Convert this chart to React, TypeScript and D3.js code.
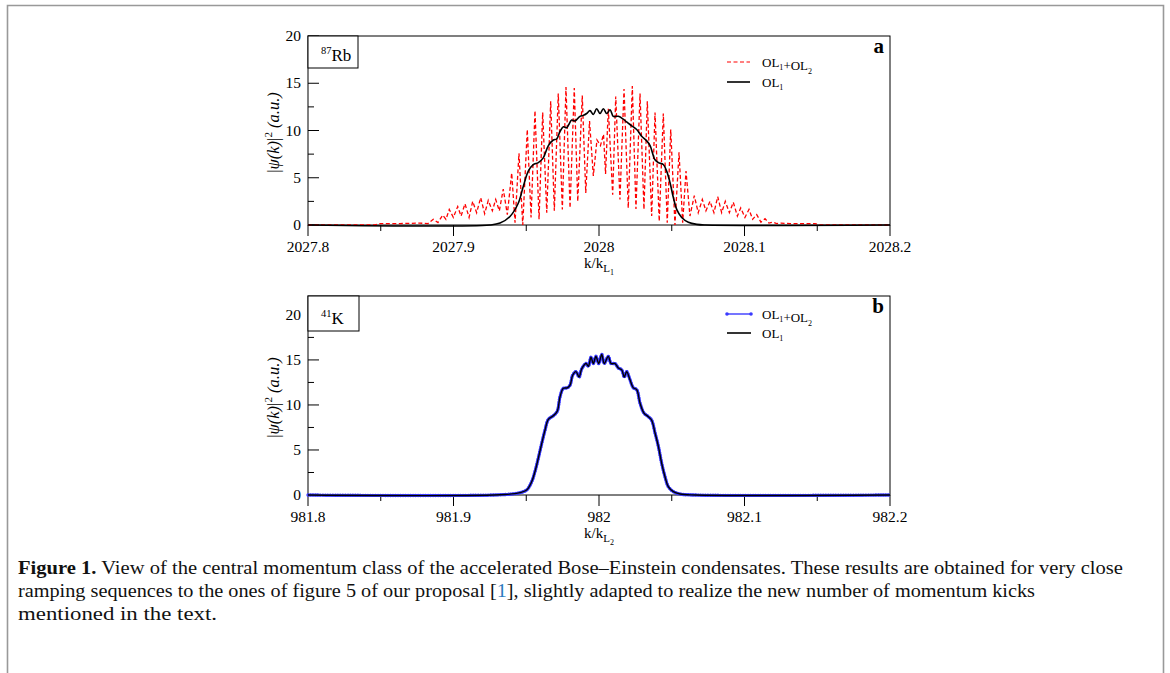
import React from 'react';
import { scaleLinear, line, curveLinear, curveCatmullRom, range } from 'd3';

type Pt = [number, number];

// panel a: 87Rb, OL1+OL2 (red dashed) [k/kL1, |psi|^2]
const rbPair: Pt[] = [
  [2027.8, 0], [2027.846, 0], [2027.8495, 0.15], [2027.8632, 0.15], [2027.877, 0.2], [2027.8825, 0.15],
  [2027.8861, 0.6], [2027.8893, 0.25], [2027.8926, 1.05], [2027.8948, 0.6], [2027.8971, 1.65], [2027.8999, 0.8],
  [2027.9029, 1.95], [2027.9052, 0.95], [2027.9079, 2.25], [2027.9107, 0.8], [2027.9132, 2.5], [2027.9159, 1.3],
  [2027.9187, 2.9], [2027.9214, 1.2], [2027.9239, 2.6], [2027.9267, 1.5], [2027.929, 2.7], [2027.9315, 1.5],
  [2027.9342, 3.8], [2027.937, 1.1], [2027.94, 5.5], [2027.9423, 0.25], [2027.945, 7.6], [2027.9476, 0],
  [2027.9507, 10.1], [2027.9533, 0.8], [2027.956, 12.1], [2027.9588, 0.6], [2027.9613, 11.9], [2027.9641, 1.3],
  [2027.9668, 13.1], [2027.9693, 1.5], [2027.972, 13.9], [2027.9748, 1.65], [2027.9773, 14.6], [2027.9801, 1.8],
  [2027.983, 14.5], [2027.9854, 2.5], [2027.9885, 13.7], [2027.9909, 3.4], [2027.9935, 11.0], [2027.9961, 5.2],
  [2027.9986, 9.0], [2028.001, 8.4], [2028.0031, 9.6], [2028.0045, 5.4], [2028.0064, 12.3], [2028.0094, 3.2],
  [2028.0115, 13.6], [2028.0144, 2.7], [2028.0172, 14.4], [2028.0201, 1.8], [2028.0229, 14.7], [2028.0254, 1.7],
  [2028.0282, 13.9], [2028.0309, 1.65], [2028.0332, 13.1], [2028.0362, 0.95], [2028.0385, 11.9], [2028.0414, 0.4],
  [2028.0442, 11.8], [2028.0469, 0.25], [2028.0493, 10.1], [2028.0522, 0], [2028.055, 7.7], [2028.0575, 0.25],
  [2028.0598, 5.7], [2028.0625, 0.95], [2028.0655, 3.1], [2028.0682, 1.3], [2028.071, 2.7], [2028.0735, 1.5],
  [2028.0763, 2.5], [2028.079, 1.3], [2028.0816, 3.0], [2028.0843, 1.3], [2028.0868, 2.5], [2028.0896, 1.3],
  [2028.0923, 2.4], [2028.0951, 0.95], [2028.0974, 1.8], [2028.1003, 0.8], [2028.1031, 1.65], [2028.1056, 0.6],
  [2028.1084, 1.1], [2028.1113, 0.3], [2028.1141, 0.67], [2028.1168, 0.2], [2028.1194, 0.3], [2028.1221, 0.15],
  [2028.1251, 0.2], [2028.1313, 0.15], [2028.1485, 0.15], [2028.1519, 0], [2028.2, 0],
];

// panel a: OL1 only (black)
const rbSingle: Pt[] = [
  [2027.8, 0], [2027.9251, 0], [2027.932, 0.2], [2027.9388, 0.9], [2027.9445, 2.3], [2027.948, 4.1],
  [2027.9514, 5.7], [2027.9548, 6.4], [2027.9583, 6.6], [2027.9617, 7.1], [2027.9652, 8.4], [2027.9686, 9.0],
  [2027.9709, 9.1], [2027.9732, 9.9], [2027.9755, 10.4], [2027.9778, 10.3], [2027.9812, 11.1], [2027.9835, 11.0],
  [2027.9869, 11.5], [2027.9892, 11.6], [2027.9915, 11.8], [2027.9938, 12.1], [2027.9961, 11.7], [2027.9984, 12.3],
  [2028.0007, 11.8], [2028.003, 12.3], [2028.0053, 11.8], [2028.0076, 12.2], [2028.0098, 11.5], [2028.0133, 11.5],
  [2028.0167, 11.2], [2028.019, 10.9], [2028.0225, 10.5], [2028.0259, 10.1], [2028.0293, 9.4], [2028.0328, 8.9],
  [2028.0351, 8.4], [2028.0385, 6.9], [2028.0408, 6.6], [2028.0442, 6.4], [2028.0465, 5.7], [2028.0488, 4.5],
  [2028.0511, 2.9], [2028.0534, 1.65], [2028.0568, 0.8], [2028.0614, 0.3], [2028.0672, 0.07], [2028.0729, 0],
  [2028.2, 0],
];

// panel b: 41K, both curves lie on top of each other [k/kL2, |psi|^2]
const kSingle: Pt[] = [
  [981.8, 0], [981.9354, 0.05], [981.9457, 0.26], [981.9503, 0.55], [981.9538, 1.5], [981.956, 2.6],
  [981.9583, 4.1], [981.9606, 5.7], [981.9629, 7.2], [981.9652, 8.4], [981.9686, 8.8], [981.9713, 9.3],
  [981.9732, 10.9], [981.9755, 11.85], [981.9782, 11.9], [981.9801, 12.2], [981.9819, 13.3], [981.9842, 13.7],
  [981.9863, 13.1], [981.9881, 14.0], [981.9911, 14.6], [981.9927, 14.3], [981.9945, 15.3], [981.9961, 14.6],
  [981.9979, 15.4], [981.9998, 14.6], [982.0019, 15.6], [982.0036, 14.6], [982.0064, 15.4], [982.0083, 14.6],
  [982.011, 14.6], [982.0133, 14.1], [982.0156, 13.9], [982.0174, 13.1], [982.019, 13.7], [982.0213, 12.8],
  [982.0236, 11.9], [982.0259, 11.7], [982.0282, 10.2], [982.0309, 9.1], [982.0339, 8.7], [982.0362, 8.3],
  [982.0385, 6.9], [982.0408, 5.4], [982.0431, 3.5], [982.0454, 2.0], [982.0476, 0.93], [982.0511, 0.37],
  [982.0557, 0.11], [982.066, 0], [982.2, 0],
];
const kPair: Pt[] = kSingle;

const rbTickLabels = ['2027.8', '2027.9', '2028', '2028.1', '2028.2'];
const kTickLabels = ['981.8', '981.9', '982', '982.1', '982.2'];

const serif = '"Liberation Serif", "Times New Roman", Times, serif';
const plotLeft = 308;
const plotRight = 890;

const OL = ({ sub, size }) => (
  <>
    OL<tspan fontSize={size * 0.62} dy={size * 0.25}>{sub}</tspan>
    <tspan dy={-size * 0.25}>{''}</tspan>
  </>
);

const Panel = ({ x0, top, bottom, yMax, tickLabels, letter, isotope, mass, sub, children }) => {
  const xScale = scaleLinear().domain([x0, x0 + 0.4]).range([plotLeft, plotRight]);
  const yScale = scaleLinear().domain([0, yMax]).range([bottom, top]);
  const midY = (top + bottom) / 2;
  const boxH = isotope === 'Rb' ? 32 : 35;
  const boxW = isotope === 'Rb' ? 50 : 51;

  return (
    <g fontFamily={serif}>
      <rect x={plotLeft} y={top} width={plotRight - plotLeft} height={bottom - top} fill="none" stroke="#000" strokeWidth={1} />
      {range(0, yMax + 0.001, 2.5).map(v => (
        <g key={'y' + v}>
          <line x1={plotLeft} x2={plotLeft + (v % 5 === 0 ? 11 : 6)} y1={yScale(v)} y2={yScale(v)} stroke="#000" />
          {v % 5 === 0 && (
            <text x={301} y={yScale(v) + 5} textAnchor="end" fontSize={15.5}>{v}</text>
          )}
        </g>
      ))}
      {range(9).map(i => {
        const k = x0 + i * 0.05;
        return (
          <g key={'x' + i}>
            <line x1={xScale(k)} x2={xScale(k)} y1={bottom} y2={bottom + (i % 2 === 0 ? 11 : 6)} stroke="#000" />
            {i % 2 === 0 && (
              <text x={xScale(k)} y={bottom + 27} textAnchor="middle" fontSize={15.5}>{tickLabels[i / 2]}</text>
            )}
          </g>
        );
      })}
      <text x={599} y={bottom + 43} textAnchor="middle" fontSize={15}>
        k/k<tspan fontSize={11} dy={4}>L</tspan><tspan fontSize={8} dy={3}>{sub}</tspan>
      </text>
      <text transform={`translate(279, ${midY + 2}) rotate(-90)`} textAnchor="middle" fontSize={16.5}>
        |<tspan fontStyle="italic">ψ(k)</tspan>|<tspan fontSize={11} dy={-7}>2</tspan>
        <tspan dy={7} fontStyle="italic"> (a.u.)</tspan>
      </text>

      {children(xScale, yScale)}

      <rect x={plotLeft} y={top} width={boxW} height={boxH} fill="#fff" stroke="#000" strokeWidth={1} />
      <text x={plotLeft + 13} y={top + boxH - 7} fontSize={17}>
        <tspan fontSize={10.5} dy={-7}>{mass}</tspan><tspan dy={7}>{isotope}</tspan>
      </text>
      <text x={884} y={top + 17} textAnchor="end" fontSize={21} fontWeight="bold">{letter}</text>
    </g>
  );
};

const App = () => {
  const linePath = (xScale, yScale, curve) =>
    line<Pt>().x(d => xScale(d[0])).y(d => yScale(d[1])).curve(curve);

  return (
    <svg width={1170} height={673} style={{ position: 'absolute', left: 0, top: 0, background: '#fff' }}>
      <path d="M7.5,680 V5.5 H1163.5 V680" fill="none" stroke="#999" strokeWidth={1.6} />

      <Panel x0={2027.8} top={36} bottom={225} yMax={20} tickLabels={rbTickLabels}
        letter="a" isotope="Rb" mass="87" sub="1">
        {(xs, ys) => (
          <g>
            <path d={linePath(xs, ys, curveLinear)(rbPair)} fill="none" stroke="#ff0000"
              strokeWidth={1.3} strokeDasharray="4 2.5" />
            <path d={linePath(xs, ys, curveCatmullRom)(rbSingle)} fill="none" stroke="#000"
              strokeWidth={1.6} />
          </g>
        )}
      </Panel>
      <g fontFamily={serif} fontSize={13}>
        <line x1={727} x2={750} y1={62} y2={62} stroke="#ff0000" strokeWidth={1.2} strokeDasharray="4 2.5" />
        <text x={762} y={67}><OL sub="1" size={13} />+<OL sub="2" size={13} /></text>
        <line x1={727} x2={750} y1={82} y2={82} stroke="#000" strokeWidth={1.6} />
        <text x={762} y={87}><OL sub="1" size={13} /></text>
      </g>

      <Panel x0={981.8} top={296} bottom={495} yMax={22.1} tickLabels={kTickLabels}
        letter="b" isotope="K" mass="41" sub="2">
        {(xs, ys) => (
          <g>
            <path d={linePath(xs, ys, curveCatmullRom)(kPair)} fill="none" stroke="#2020ff"
              strokeWidth={2.6} />
            <path d={linePath(xs, ys, curveCatmullRom)(kPair)} fill="none" stroke="#3a3aff"
              strokeWidth={3.4} strokeDasharray="0.1 2.4" strokeLinecap="round" />
            <path d={linePath(xs, ys, curveCatmullRom)(kSingle)} fill="none" stroke="#000"
              strokeWidth={1.4} />
          </g>
        )}
      </Panel>
      <g fontFamily={serif} fontSize={13}>
        <line x1={727} x2={751} y1={314} y2={314} stroke="#3a3aff" strokeWidth={1.4} />
        <circle cx={727} cy={314} r={1.8} fill="#3a3aff" />
        <circle cx={751} cy={314} r={1.8} fill="#3a3aff" />
        <text x={762} y={319}><OL sub="1" size={13} />+<OL sub="2" size={13} /></text>
        <line x1={727} x2={751} y1={333} y2={333} stroke="#000" strokeWidth={1.6} />
        <text x={762} y={338}><OL sub="1" size={13} /></text>
      </g>

      <g fontFamily={serif} fontSize={19.5} fill="#111">
        <text x={18} y={574} textLength={1105} lengthAdjust="spacingAndGlyphs">
          <tspan fontWeight="bold">Figure 1.</tspan> View of the central momentum class of the accelerated Bose–Einstein condensates. These results are obtained for very close
        </text>
        <text x={18} y={597} textLength={1017} lengthAdjust="spacingAndGlyphs">
          ramping sequences to the ones of figure 5 of our proposal [<tspan fill="#2b7bbd">1</tspan>], slightly adapted to realize the new number of momentum kicks
        </text>
        <text x={18} y={620} textLength={199} lengthAdjust="spacingAndGlyphs">mentioned in the text.</text>
      </g>
    </svg>
  );
};

export default App;
